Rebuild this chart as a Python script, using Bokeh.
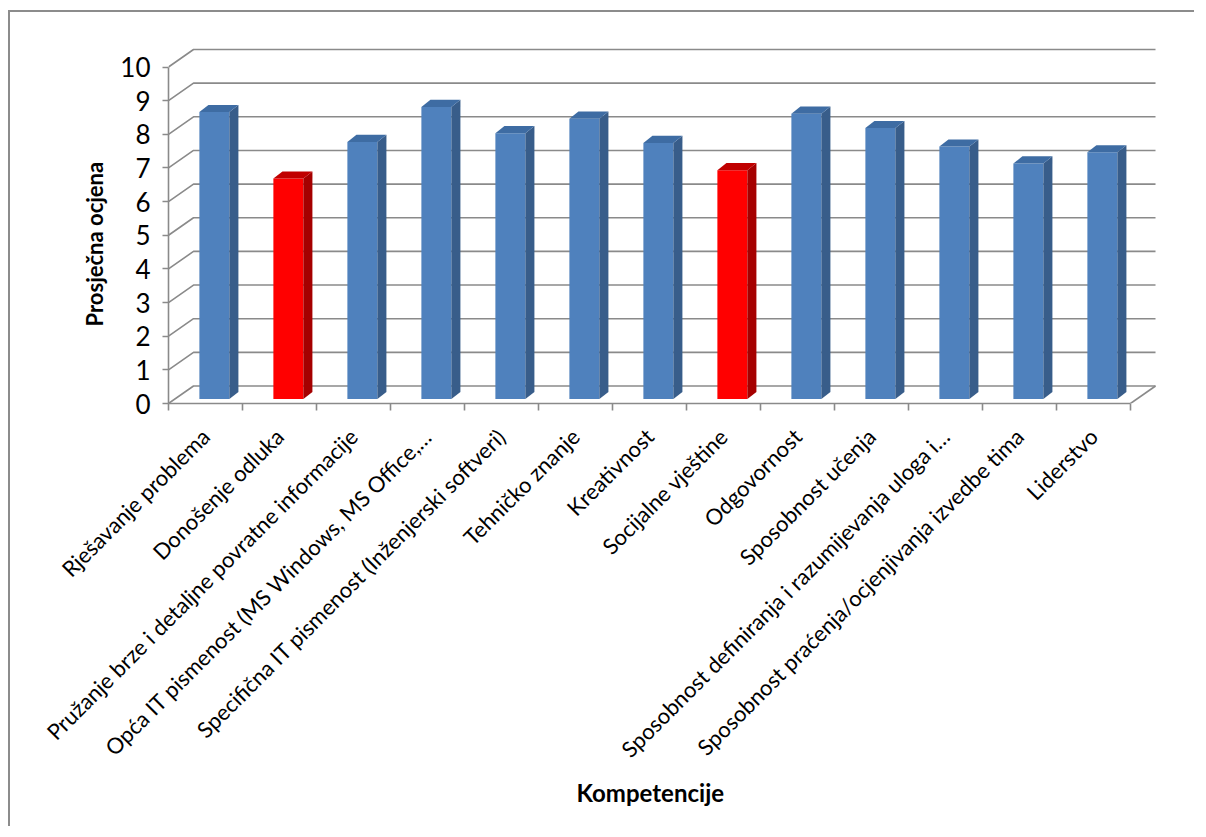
from math import pi
from bokeh.plotting import figure
from bokeh.models import FixedTicker, Range1d, Title
from bokeh.embed import file_html
from bokeh.resources import INLINE

# ---- data ----
categories = [
    "Rješavanje problema",
    "Donošenje odluka",
    "Pružanje brze i detaljne povratne informacije",
    "Opća IT pismenost (MS Windows, MS Office,…",
    "Specifična IT pismenost (Inženjerski softveri)",
    "Tehničko znanje",
    "Kreativnost",
    "Socijalne vještine",
    "Odgovornost",
    "Sposobnost učenja",
    "Sposobnost definiranja i razumijevanja uloga i…",
    "Sposobnost praćenja/ocjenjivanja izvedbe tima",
    "Liderstvo",
]
values = [8.53, 6.55, 7.64, 8.68, 7.90, 8.33, 7.61, 6.80, 8.48, 8.05, 7.50, 7.00, 7.33]
highlight = [False, True, False, False, False, False, False, True, False, False, False, False, False]
y_ticks = [0, 1, 2, 3, 4, 5, 6, 7, 8, 9, 10]
x_title = "Kompetencije"
y_title = "Prosječna ocjena"

# ---- style / 3D geometry constants ----
FONT = "Lato"
GRID = "#8a8a8a"
DX, DY = 0.338, 0.52        # depth of the back wall (data units)
OX, OY = 0.12, 0.134        # bar centre shift / floor lift
HW = 0.2027                 # bar half width
SDX, SDY = 0.122, 0.21      # bar side depth
FRONT = {False: "#4F81BD", True: "#FF0000"}
SIDE = {False: "#385D8A", True: "#A50000"}
TOP = {False: "#3E6CA3", True: "#C00000"}

n = len(categories)
xs = list(range(n))

p = figure(width=1186, height=816, output_backend="svg", toolbar_location=None,
           x_range=Range1d(-0.5, -0.5 + 1000 / 74.0), y_range=Range1d(0, 359 / 33.65),
           min_border_left=158, min_border_right=28, min_border_top=32, min_border_bottom=425)
p.outline_line_color = None
p.xgrid.visible = False
p.ygrid.visible = False
p.background_fill_color = "white"
p.border_fill_color = "white"
p.styles = {"border-top": "2px solid #8c8c8c", "border-left": "2px solid #8c8c8c",
            "margin-left": "8px", "margin-top": "10px"}

# gridlines: diagonal on side wall + horizontal on back wall
gx, gy = [], []
for t in y_ticks:
    gx.append([-0.5, -0.5 + DX, n - 0.5 + DX])
    gy.append([t, t + DY, t + DY])
p.multi_line(gx, gy, line_color=GRID, line_width=1.6)
# right floor edge
p.line([n - 0.5, n - 0.5 + DX], [0, DY], line_color=GRID, line_width=1.6)

# bars
cx = [x + OX for x in xs]
tops = [OY + v for v in values]
p.vbar(x=cx, width=2 * HW, bottom=OY, top=tops,
       fill_color=[FRONT[h] for h in highlight], line_color=None)
side_x, side_y, top_x, top_y = [], [], [], []
for c, t in zip(cx, tops):
    xl, xr = c - HW, c + HW
    side_x.append([xr, xr + SDX, xr + SDX, xr])
    side_y.append([OY, OY + SDY, t + SDY, t])
    top_x.append([xl, xl + SDX, xr + SDX, xr])
    top_y.append([t, t + SDY, t + SDY, t])
p.patches(side_x, side_y, fill_color=[SIDE[h] for h in highlight], line_color=None)
p.patches(top_x, top_y, fill_color=[TOP[h] for h in highlight], line_color=None)

# axes
xa = p.xaxis[0]
xa.ticker = FixedTicker(ticks=xs, minor_ticks=[x - 0.5 for x in range(n + 1)])
xa.major_label_overrides = {i: c for i, c in enumerate(categories)}
xa.bounds = (-0.5, n - 0.5)
xa.axis_line_color = GRID
xa.axis_line_width = 1.6
xa.major_tick_line_color = None
xa.major_tick_out = 0
xa.minor_tick_line_color = GRID
xa.minor_tick_line_width = 1.6
xa.minor_tick_out = 7
xa.minor_tick_in = 0
xa.major_label_orientation = pi / 4
xa.major_label_standoff = 22
xa.major_label_text_font = FONT
xa.major_label_text_font_size = "22px"
xa.major_label_text_color = "black"

ya = p.yaxis[0]
ya.ticker = FixedTicker(ticks=y_ticks)
ya.bounds = (0, 10)
ya.axis_line_color = GRID
ya.axis_line_width = 1.6
ya.major_tick_line_color = GRID
ya.major_tick_line_width = 1.6
ya.major_tick_out = 6
ya.major_tick_in = 0
ya.minor_tick_line_color = None
ya.major_label_standoff = 12
ya.major_label_text_font = FONT
ya.major_label_text_font_size = "26px"
ya.major_label_text_color = "black"

# axis titles, placed like the original (centred on the axis, not on the frame)
p.add_layout(Title(text=y_title, align="left", offset=77, standoff=19,
                   text_font=FONT, text_font_style="bold", text_font_size="22px",
                   text_color="black"), "left")
p.add_layout(Title(text=x_title, align="left", offset=408, standoff=0,
                   text_font=FONT, text_font_style="bold", text_font_size="24px",
                   text_color="black"), "below")

open("out.html", "w").write(file_html(p, INLINE))
